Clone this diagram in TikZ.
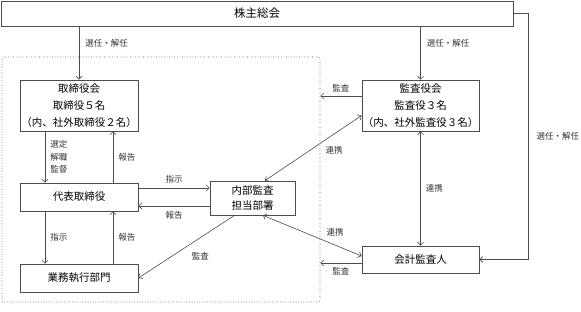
\documentclass[tikz,border=0pt]{standalone}
\usepackage{fontspec}
\newfontfamily\jp{Noto Sans CJK JP}
\usetikzlibrary{arrows.meta}
\definecolor{linegray}{gray}{0.3}
\begin{document}
\begin{tikzpicture}[x=1pt, y=-1pt, >={Straight Barb[length=3pt,width=6pt]},
    box/.style={draw=linegray, line width=0.8pt, fill=white, align=center, inner sep=0pt,
        font=\jp\fontsize{10.5}{17}\selectfont},
    lbl/.style={font=\jp\fontsize{8.5}{12.5}\selectfont, text=black!80, inner sep=2pt, align=left},
    conn/.style={draw=linegray, line width=0.6pt}]
    \useasboundingbox (0,0) rectangle (581,312);

    \node[draw=linegray, line width=0.6pt, dotted, rounded corners=2pt, minimum width=318, minimum height=245] (inner) at (161,179.5) {};

    \node[box, minimum width=512, minimum height=25, font=\jp\fontsize{11.5}{17}\selectfont] (gm) at (257,13.5) {株主総会};
    \node[box, minimum width=118, minimum height=51] (board) at (79,105.5) {取締役会\\取締役５名\\（内、社外取締役２名）};
    \node[box, minimum width=117, minimum height=51] (kansa) at (420.5,105.5) {監査役会\\監査役３名\\（内、社外監査役３名）};
    \node[box, minimum width=118, minimum height=28] (ceo) at (79,197) {代表取締役};
    \node[box, minimum width=118, minimum height=28] (exec) at (79,278) {業務執行部門};
    \node[box, minimum width=85, minimum height=34, font=\jp\fontsize{10.5}{15}\selectfont] (ia) at (252.5,198) {内部監査\\担当部署};
    \node[box, minimum width=117, minimum height=27] (auditor) at (420.5,259.5) {会計監査人};

    \coordinate (cin) at ([yshift=9pt]ceo.east);
    \coordinate (cback) at ([yshift=-9pt]ceo.east);
    \coordinate (kout) at ([yshift=9.5pt]kansa.west);
    \coordinate (aout) at ([yshift=-3.5pt]auditor.west);

    \draw[conn, ->] (board.north |- gm.south) -- node[lbl, pos=0.32, right=4pt] {選任・解任} (board.north);
    \draw[conn, ->] (kansa.north |- gm.south) -- node[lbl, pos=0.32, right=4pt] {選任・解任} (kansa.north);
    \draw[conn, ->] (gm.east) -- ++(15,0) |- node[lbl, pos=0.25, right=6pt] {選任・解任} (auditor.east);

    \draw[conn, ->] ([xshift=-34pt]board.south) -- node[lbl, right=3pt] {選定\\解職\\監督} ([xshift=-34pt]ceo.north);
    \draw[conn, ->] ([xshift=34pt]ceo.north) -- node[lbl, right=3pt] {報告} ([xshift=34pt]board.south);
    \draw[conn, ->] ([xshift=-34pt]ceo.south) -- node[lbl, right=3pt] {指示} ([xshift=-34pt]exec.north);
    \draw[conn, ->] ([xshift=34pt]exec.north) -- node[lbl, right=3pt] {報告} ([xshift=34pt]ceo.south);

    \draw[conn, ->] (cin) -- node[lbl, above=3pt] {指示} (cin -| ia.west);
    \draw[conn, ->] (cback -| ia.west) -- node[lbl, below=3pt] {報告} (cback);
    \draw[conn, ->] ([xshift=-18pt]ia.south) -- node[lbl, below right=3pt] {監査} (exec.east);

    \draw[conn, <->] ([xshift=12.5pt]ia.north) -- node[lbl, pos=0.47, right=13pt] {連携} ([yshift=-10pt]kansa.west);
    \draw[conn, <->] ([xshift=10.5pt]ia.south) -- node[lbl, pos=0.41, right=21pt] {連携} ([yshift=3.5pt]auditor.west);
    \draw[conn, <->] (kansa.south) -- node[lbl, right=3pt] {連携} (auditor.north);

    \draw[conn, ->] (kout) -- node[lbl, above=2pt] {監査} (kout -| inner.east);
    \draw[conn, ->] (aout) -- node[lbl, below=2pt] {監査} (aout -| inner.east);
\end{tikzpicture}
\end{document}
